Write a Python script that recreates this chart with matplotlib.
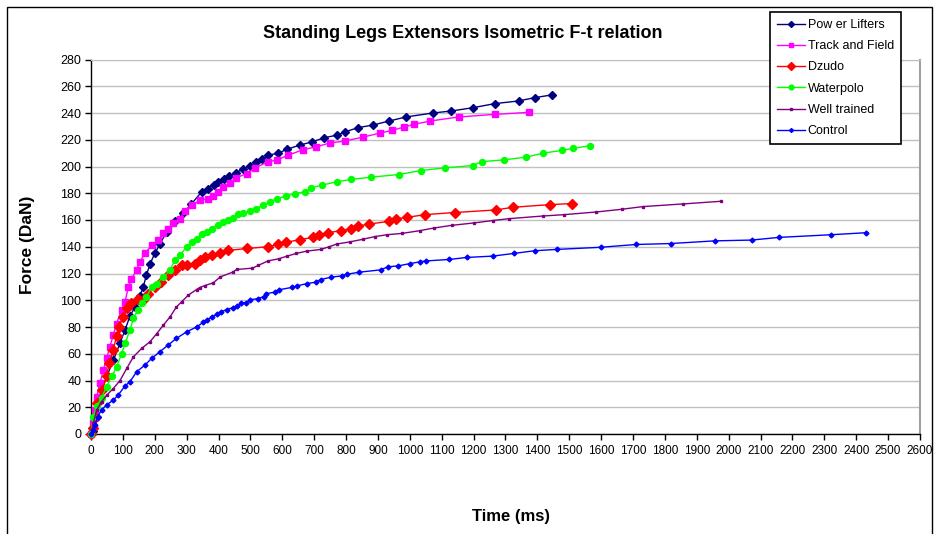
import matplotlib
matplotlib.use("Agg")
import matplotlib.pyplot as plt
from matplotlib.patches import Rectangle

plt.rcParams['font.family'] = ['Liberation Sans', 'DejaVu Sans']

# Power Lifters
t_power = [0, 7, 18, 33, 49, 70, 91, 107, 122, 138, 153, 164, 174, 185, 200, 216, 237, 263, 289, 315,
           347, 367, 385, 399, 417, 433, 454, 477, 498, 519, 537, 556, 587, 616, 655, 694, 732, 772, 798,
           837, 884, 935, 987, 1072, 1130, 1199, 1266, 1341, 1392, 1445]
f_power = [0, 2, 13, 33, 43, 55, 68, 78, 88, 95, 103, 110, 119, 127, 135, 142, 151, 159, 165, 172,
           181, 183.5, 186.5, 188.5, 190.7, 193, 195.4, 198, 200.5, 203, 205.5, 208.4, 210, 213, 216, 218.5,
           221.5, 223.5, 226, 229, 231, 234, 237, 240, 241.5, 244, 247, 249, 251.5, 253.5]

# Track and Field
t_track = [0, 7, 12, 18, 28, 39, 49, 59, 70, 80, 96, 107, 117, 127, 143, 153, 169, 190, 211, 227, 242,
           258, 279, 294, 316, 341, 367, 383, 399, 414, 435, 456, 488, 514, 556, 584, 618, 665, 705, 749,
           796, 853, 907, 944, 982, 1013, 1063, 1153, 1267, 1375]
f_track = [0, 8, 18, 28, 38, 48, 56.5, 65, 74, 82.6, 92.7, 99, 110, 116, 122.5, 128.7, 135, 141, 145, 150,
           153.6, 157.4, 161, 167, 171, 174.7, 176, 178, 181, 184.8, 188, 191.6, 194.7, 199, 203.5, 205,
           208.4, 212.6, 214.6, 217.6, 219, 222, 225, 227, 229.5, 231.5, 234, 237, 239, 240.5]

# Dzudo
t_dzudo = [0, 7, 12, 20, 36, 49, 57, 70, 80, 89, 99, 112, 127, 148, 164, 180, 200, 221, 242, 263, 284,
           300, 326, 341, 357, 378, 404, 430, 488, 556, 587, 613, 655, 697, 714, 743, 783, 817, 837, 873,
           935, 958, 992, 1047, 1141, 1269, 1323, 1439, 1508]
f_dzudo = [0, 4.6, 13, 23, 33, 43, 53, 63, 73, 80, 87.6, 94, 97.6, 100.6, 100, 105, 110, 113.7, 118.7,
           122.5, 126, 126.7, 127.4, 130, 132, 134, 135.4, 137.2, 138.7, 140, 141.7, 143.4, 145.3, 147,
           148.8, 150.5, 152, 153.6, 155.5, 157, 159, 161, 162, 164, 165.6, 167.5, 169.5, 171.5, 172.3]

# Waterpolo
t_water = [0, 7, 18, 33, 49, 65, 80, 96, 107, 122, 133, 148, 159, 174, 190, 206, 227, 248, 263, 279, 300,
           316, 331, 347, 363, 378, 399, 414, 430, 446, 462, 477, 498, 517, 540, 561, 582, 613, 640, 671,
           691, 723, 771, 817, 878, 965, 1035, 1110, 1197, 1226, 1296, 1365, 1418, 1477, 1512, 1566]
f_water = [0, 13, 20.6, 27, 35.5, 43, 50, 60, 67.7, 77.7, 86.4, 93, 97.6, 102.5, 110, 112.5, 117.5, 122.5,
           130, 133.7, 140, 143.6, 146, 149.4, 151, 153.6, 156.6, 158.6, 160.3, 161.8, 164.3, 165.3, 166.8,
           168.5, 171, 173.6, 176, 177.8, 179.8, 181, 184, 186, 188.6, 190.4, 192, 194, 197, 199, 200.7,
           203.6, 205, 207, 210, 212, 213.6, 215.5]

# Well trained
t_well = [0, 7, 18, 33, 49, 70, 91, 112, 133, 159, 185, 206, 227, 248, 268, 284, 305, 331, 341, 357, 383,
          406, 444, 457, 506, 524, 555, 589, 615, 644, 676, 721, 747, 770, 811, 853, 890, 929, 976, 1031,
          1075, 1131, 1201, 1260, 1311, 1418, 1484, 1585, 1664, 1730, 1856, 1976]
f_well = [0, 8, 18, 24, 29, 34, 40, 49, 57.7, 64, 69, 75, 81.4, 87.6, 95, 98.8, 103.8, 108, 109.5, 111,
          113, 117.5, 121, 123, 124, 126, 129.4, 131, 133, 135, 136.7, 138, 140, 142, 143.6, 145.6, 147.6,
          149, 150, 152, 154, 156, 157.8, 159.6, 161, 163, 164, 166, 168, 170, 172, 174]

# Control
t_ctrl = [0, 7, 12, 21, 33, 49, 70, 85, 107, 122, 143, 169, 190, 216, 242, 268, 300, 331, 352, 363, 378,
          394, 409, 425, 446, 459, 472, 485, 500, 524, 543, 550, 576, 589, 630, 647, 678, 705, 721, 754,
          787, 804, 842, 908, 931, 964, 1000, 1031, 1050, 1124, 1178, 1260, 1326, 1391, 1460, 1598, 1710,
          1818, 1956, 2072, 2158, 2322, 2431]
f_ctrl = [0, 3, 6.7, 13, 18, 21.7, 25.4, 29, 36, 39, 46.5, 51.5, 56.5, 61.5, 66.5, 71.5, 76.4, 80, 83.5,
          85, 87.5, 89.4, 91.4, 93, 94.5, 95.6, 97.6, 98.3, 100.3, 101.3, 102.8, 105, 106, 107.8, 109.6,
          110.8, 112.5, 113.5, 115.5, 117.3, 118.2, 119.5, 121, 122.7, 125, 125.7, 127.4, 128.7, 129.4,
          130.5, 132, 133, 135, 137, 138, 139.6, 141.7, 142.4, 144.4, 145, 147, 149, 150.5]

x_ticks = list(range(0, 2601, 100))
y_ticks = list(range(0, 281, 20))

W, H = 937, 534
fig = plt.figure(figsize=(W / 100, H / 100), dpi=100)
ax = fig.add_axes([91 / W, 1 - 434 / H, (920 - 91) / W, (434 - 59.5) / H])

# series: (label, t, f, color, marker, markersize)
series = [
    ("Pow er Lifters", t_power, f_power, "#000080", "D", 3.8),
    ("Track and Field", t_track, f_track, "#FF00FF", "s", 4.2),
    ("Dzudo", t_dzudo, f_dzudo, "#FF0000", "D", 5.0),
    ("Waterpolo", t_water, f_water, "#00FF00", "o", 4.3),
    ("Well trained", t_well, f_well, "#800080", "s", 2.0),
    ("Control", t_ctrl, f_ctrl, "#0000FF", "D", 2.5),
]
for label, t, f, c, m, ms in series:
    ax.plot(t, f, color=c, marker=m, markersize=ms, linewidth=1, label=label, clip_on=False, zorder=3)

ax.set_xlim(0, 2600)
ax.set_ylim(0, 280)
ax.set_xticks(x_ticks)
ax.set_yticks(y_ticks)
ax.tick_params(axis='both', direction='out', length=4, width=1, pad=3, color='black')
ax.tick_params(axis='x', labelsize=8.5, pad=4)
ax.tick_params(axis='y', labelsize=9)
ax.grid(axis='y', color='#c0c0c0', linewidth=1)
ax.set_axisbelow(True)
for s in ['left', 'bottom']:
    ax.spines[s].set_color('black')
    ax.spines[s].set_linewidth(1)
ax.spines['top'].set_color('#c0c0c0')
ax.spines['right'].set_color('#a0a0a0')
ax.spines['right'].set_linewidth(1.5)

# outer chart frame
fig.add_artist(Rectangle((7 / W, -0.05), (932 - 7) / W, 1 - 6.7 / H + 0.05, transform=fig.transFigure,
                         fill=False, edgecolor='black', linewidth=1))

fig.text(463 / W, 1 - 33 / H, "Standing Legs Extensors Isometric F-t relation",
         ha='center', va='center', fontsize=13, fontweight='bold')
fig.text(28 / W, 1 - 245 / H, "Force (DaN)", rotation=90, ha='center', va='center',
         fontsize=12.5, fontweight='bold')
fig.text(511 / W, 1 - 516 / H, "Time (ms)", ha='center', va='center', fontsize=12, fontweight='bold')

leg = ax.legend(loc='upper left', bbox_to_anchor=(769.7 / W, 1 - 12 / H), bbox_transform=fig.transFigure,
                fontsize=9, frameon=True, fancybox=False, framealpha=1, edgecolor='black',
                handlelength=2.3, handletextpad=0.2, borderpad=0.55, labelspacing=0.74,
                borderaxespad=0, markerscale=0.8)
leg.get_frame().set_linewidth(1.2)
leg.set_zorder(10)

fig.savefig("out.png", dpi=100)
